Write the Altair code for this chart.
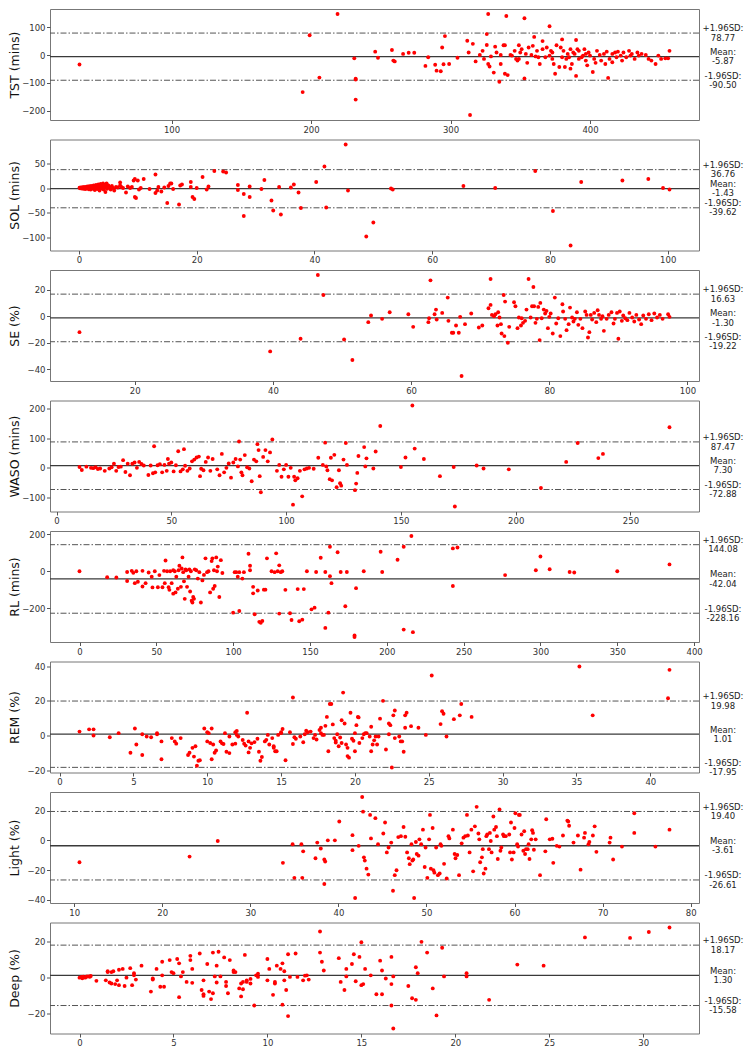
import altair as alt
import pandas as pd

W = 649
H = 111

TST_POINTS = [
(34,-34),(194,-133),(199,71),(206,-81),(219,147),(231,-12),(232,-85),(232,-88),(232,-160),(246,12),(248,-10),(258,18),(259,-20),(260,-23),(266,4),(270,8),(274,8),(282,-39),(284,-8),(289,-35),(290,-56),(293,-58),(294,27),(295,-33),(296,68),(299,-32),(305,-10),(312,51),(314,-215),(313,9),(316,40),(318,-23),(321,0),(323,15),(324,-14),(326,75),(326,36),(327,147),(327,-32),(328,-41),(329,-5),(331,-63),(332,30),(333,9),(335,-96),(336,0),(336,-32),(338,35),(339,35),(339,-67),(340,140),(341,-72),(343,0),(344,-2),(346,15),(347,-14),(348,-20),(349,-14),(349,35),(350,9),(351,21),(353,-84),(353,132),(354,4),(355,-28),(356,27),(358,0),(359,33),(360,65),(361,-5),(362,15),(363,-8),(364,-32),(366,50),(366,21),(368,-8),(369,27),(371,103),(371,-2),(372,15),(373,-14),(373,9),(374,-32),(375,-67),(376,35),(378,-43),(379,27),(380,56),(380,-8),(381,15),(382,-43),(383,-14),(384,4),(385,-8),(386,-49),(386,21),(387,-32),(388,9),(389,4),(390,-75),(390,54),(391,21),(392,-14),(392,15),(394,-8),(395,-2),(396,21),(397,4),(397,-20),(398,-37),(399,9),(400,-2),(402,-61),(403,-14),(404,-28),(405,15),(407,0),(408,-20),(410,4),(411,-32),(412,12),(413,-82),(414,-14),(416,4),(416,-26),(418,9),(419,-8),(420,12),(422,-2),(423,-20),(424,9),(426,-8),(428,15),(429,-2),(430,4),(432,-14),(434,9),(435,-2),(437,4),(440,0),(442,-14),(444,-20),(447,-32),(449,-2),(451,-14),(454,-12),(457,15),(456,-12)
]

SOL_POINTS = [
(0.1,0.5),(0.2,-0.5),(0.3,1),(0.4,0),(0.5,-1),(0.6,1.5),(0.7,0.5),(0.8,-1.5),(0.9,2),(1.0,0),(1.1,-2),(1.2,1),(1.3,2.5),(1.4,-1),(1.5,3),(1.6,0.5),(1.7,-2.5),(1.8,3.5),(1.9,1),(2.0,-3),(2.1,4),(2.2,0),(2.3,2),(2.4,-1.5),(2.5,5),(2.6,1),(2.7,-4),(2.8,3),(2.9,6),(3.0,0),(3.1,-2),(3.2,4.5),(3.3,7),(3.4,1.5),(3.5,-5),(3.6,3),(3.7,8),(3.8,-1),(3.9,5),(4.0,2),(4.1,9),(4.2,-3),(4.3,6),(4.4,0.5),(4.5,-8),(4.6,3.5),(4.7,9),(4.8,-1.5),(5.0,5),(5.2,1),(5.4,-3),(5.6,4),(5.8,0),(6.0,-5),(6.3,2),(6.6,1),(7.0,11),(7.0,5),(7.2,2),(7.5,0),(8.0,-9),(8.3,3),(8.7,0),(9.0,2),
(9.3,15),(9.5,18),(9.5,-18),(9.7,-20),(10.0,15),(10.2,-3),(10.5,0),(11,18),(12,-2),(13,27),(13,-10),(13.3,-5),(13.5,2),(14,-7),(14.5,1),(15,-30),(15.2,4),(15.5,9),(15.7,9),(16,-2),(17,-33),(17.2,5),(17.5,7),(19,12),(19,2),(19.3,-18),(19.6,-22),(20,0),(21,22),(21.7,-3),(22,3),(23,34),(24.5,33),(25,31),(27,6),(27,-4),(28,-12),(28,-56),(29,3),(29,-18),(31,-2),(31.5,16),(32.7,-25),(33,-45),(34,2),(34.3,-53),(36,1),(36.5,7),(37.3,-9),(37.7,-40),(40.3,12),(41.7,43),(42,-39),(45.3,87),(45.7,-5),(48.8,-97),(50,-69),(53,-1),(53.3,-3),(65.3,4),(70.7,0),(77.5,34),(80.5,-46),(83.5,-115),(85.3,12),(92.3,15),(96.7,18),(99.2,0),(100.3,-3)
]

SE_POINTS = [
(12,-12),(39.6,-26.5),(44,-17),(46.5,31),(47.3,16),(50.3,-17.5),(51.5,-33),(53.8,-4.5),(54.2,0.5),(55.8,-2),(56.9,3),(59.6,1.5),(60.3,-8),(62.5,-4.5),(62.6,-1.5),(62.8,27),(63.4,1.5),(63.6,5),(63.7,-2.5),(64.5,2.5),(65.3,14),(65.4,-3.5),(65.9,-12.5),(66.1,-12.5),(66.5,-7),(66.9,-12.5),(67.1,-0.5),(67.3,-45),(67.8,-6),(68.7,2),(69.8,-8.5),(70.3,-7),(71.2,6),(71.5,8.5),(71.5,28),(71.7,1),(72,0),(72.2,1.5),(72.5,-7),(72.6,3),(72.8,-1),(73,-6),(73.1,-13),(73.4,16),(73.5,-15),(73.6,11),(74,-20),(74.2,-8),(74.9,10.5),(75.1,7.5),(75.4,-9),(75.6,-1),(75.9,-7),(76,-1.5),(76.2,-5),(76.5,-3.5),(76.7,5),(77,28),(77.3,-1),(77.5,7.5),(77.7,22),(77.8,7.5),(78,-5),(78.2,-2),(78.4,7),(78.6,-18),(78.7,10),(78.9,-1.5),(79.2,5),(79.4,2),(79.6,4),(79.8,-9),(80,-0.5),(80.2,2),(80.5,-13),(80.8,14),(81,-5.5),(81.3,-1.5),(81.6,-15),(81.9,9),(82,3.5),(82.3,-2),(82.5,-10.5),(82.8,-6),(83,6.5),(83.3,-1),(83.5,-4),(83.7,-2),(84,3),(84.2,-6.5),(84.5,-2),(84.8,-9),(85.2,3.5),(85.4,1),(85.6,-16),(85.8,-12),(86,1),(86.2,-2.5),(86.5,2.5),(86.8,-4.5),(87,4.5),(87.2,1),(87.5,-2),(87.7,0),(87.9,-11),(88.3,-2),(88.6,1),(89,3),(89.3,-5.5),(89.5,-2),(89.8,2.5),(90,-17),(90.2,3.5),(90.5,-3.5),(90.7,0.5),(91,-1.5),(91.3,-3),(91.6,2.5),(92,-1),(92.3,-4),(92.6,1),(93,-2.5),(93.3,-6),(93.6,0.5),(94,-2),(94.4,1.5),(94.8,-3),(95.2,2),(95.6,-1),(96,1),(96.4,-2),(97.2,1.5),(97.4,-0.5)
]

WASO_POINTS = [
(10,3),(11,-7),(13,4),(15,0),(16,-1),(17,2),(18,-4),(19,-2),(21,-10),(23,-2),(24,2),(25,14),(26,-10),(27,3),(28,4),(29,26),(30,-14),(31,14),(32,-25),(33,14),(34,18),(35,0),(36,20),(37,13),(38,8),(40,-24),
(41,8),(42,-18),(42.5,73),(43,-15),(44,9),(45,12),(46,-15),(47,10),(48,-10),(48.5,30),(49,14),(50,18),(51,-12),(52,9),(53,56),(54,-12),(55,-5),(55.5,63),(56,7),(57,-10),(58,-2),(59,22),(60,28),(61,35),(62,38),(62.5,-28),(63,-3),(64,-8),(65,20),(66,35),(67,-10),(68,30),(70,-5),(71,-25),(72,47),(73,-15),(74,0),(75,15),(76,-33),(77,18),(78,30),(79,5),(79.5,89),(80,28),(80.5,-15),(81,-25),(82,43),(83,2),(84,-2),(85,-45),(86,28),(87,22),(87.5,80),(88,60),(88.5,-28),(89,-82),(90,37),(91,60),(92,22),(93,52),(94,96),(96,-10),(97,10),(98,-30),(99,-5),(100,10),(101,-30),(102,0),(103,-124),(103.5,-30),(104,-42),(105,-35),(106,-10),(107,-96),(108,-5),(109,-2),(110,0),(112,-3),(114,34),(116,10),(117,85),(117.5,5),(118,-8),(119,-38),(119.5,34),(120,-42),(121,44),(122,-65),(123,-8),(123.5,-52),(124,-60),(125,28),(126,84),(126.5,10),(130,-75),(130.5,-53),(131,-17),(131.5,40),(134,70),(134.5,5),(135,32),(138,-2),(139,55),(141,141),(150,3),(152,35),(155,210),(156,65),(160,30),(167,-28),(173,3),(173.5,-130),(183,8),(186,-2),(197,-5),(211,-68),(222,20),(227,84),(236,33),(238,47),(267,137)
]

RL_POINTS = [
(0,0),(18,-33),(24,-34),(31,-4),(31,-53),(34,2),(35,-9),(36,-65),(37,0),(38,-57),(41,2),(41,-83),(43,-65),(45,-7),(47,-30),(47.5,-88),(49,0),(51,-87),(52,-21),(54,-87),(55,2),(55.5,-65),(56,58),(57,0),(58,-87),(58.5,-101),(59,0),(60,-65),(61,-122),(61,5),(62,0),(62.5,-115),(63,-30),(64,-95),(64.5,5),(65,30),(66,-85),(66.5,15),(67,75),(67.5,-5),(68,-55),(68.5,-150),(69,10),(69.5,5),(70,-85),(71,-30),(71.5,10),(72,-110),(72.5,0),(73,-160),(73.5,-170),(74,-140),(74.5,-150),(75,10),(76,5),(77,-40),(78,-5),(79,-170),(80,-50),(81,-20),(82,70),(83,-5),(84,0),(85,-115),(86,55),(86.5,70),(87,-95),(87.5,5),(88,-80),(89,75),(89.5,0),(90,25),(91,-140),(92,60),(93,-10),
(100,-225),(101,-5),(102,-5),(103,-30),(104,-5),(104,-216),(106,-40),(107,-5),(110,95),(111,30),(111,5),(113,-85),(113,-120),(114,-234),(116,-105),(117,-275),(118,-280),(119,-270),(120,-100),(121,-100),(122,70),(125,0),(127,-5),(128,97),(129,0),(130,-230),(130,32),(131,-5),(132,0),(134,-101),(137,-228),(138,-265),(142,-97),(143,-272),(145,-263),(146,-97),(148,0),(151,-207),(153,-198),(154,-4),(157,73),(160,-4),(160,-308),(162,-225),(163,133),(163,-27),(164,-65),(168,103),(170,-4),(173,-190),(174,-4),(179,-349),(179,-357),(180,-92),(185,0),(196,106),(197,-4),(207,62),(211,133),(211,-317),(216,191),(217,-331),(243,124),(246,129),(243,-80),(277,-21),(297,5),(300,80),(306,11),(319,-4),(322,-7),(350,0),(384,37)
]

REM_POINTS = [
(1.35,2.5),(2.0,3.8),(2.3,3.8),(2.3,0.3),(3.4,-0.7),(4.0,1.6),(4.8,-9.6),(5.1,4.3),(5.2,-4.9),(5.6,-10.9),(5.6,1.0),(5.9,-0.3),(6.2,-0.7),(6.6,1.0),(6.6,1.6),(6.9,-13.3),(6.9,-3.1),(7.6,-1.2),(7.8,-3.1),(7.9,-4.4),(8.2,-1.2),(8.7,-10.9),(8.8,-9.6),(9.0,-6.8),(9.1,-11.8),(9.2,-5.9),(9.3,-17.0),(9.4,-14.2),(9.5,-13.9),(9.8,4.3),(10.0,-3.1),(10.0,2.1),(10.1,1.6),(10.2,-4.0),(10.3,-13.3),(10.3,4.3),(10.4,-4.9),(10.5,-9.6),(10.6,-8.3),(10.9,-3.1),(11.0,-4.2),(11.1,-4.6),(11.2,1.6),(11.3,-9.0),(11.5,-0.3),(11.5,-9.8),(11.7,-4.9),(11.9,-4.4),(11.9,2.1),(12.0,2.9),(12.0,0.6),(12.1,-0.3),(12.4,-2.3),(12.5,-4.4),(12.6,-5.5),(12.8,-9.4),(12.7,13.3),(12.8,-3.1),(12.9,-6.8),(13.0,-4.2),(13.2,-3.5),(13.4,-1.6),(13.5,-9.0),(13.7,-12.0),(13.6,-14.2),(13.9,-3.1),(14.0,-2.2),(14.1,0.6),(14.2,-4.9),(14.4,-1.2),(14.5,-5.9),(14.5,-6.8),(14.6,-8.7),(14.7,-8.7),(14.8,0.6),(15.0,1.6),(15.0,2.1),(15.1,4.0),(15.3,-13.9),(15.6,2.1),(15.8,-4.6),(15.9,-0.7),(15.8,22.0),(16.0,-1.6),(16.3,-0.3),(16.5,-3.6),(16.6,1.0),(16.7,3.0),(16.8,2.1),(17.0,2.5),(17.2,-1.2),(17.3,0.6),(17.4,-2.0),(17.6,3.4),(17.7,4.7),(17.7,1.6),(17.8,0.6),(17.9,0.6),(18.0,5.8),(18.1,10.9),(18.2,-8.7),(18.3,18.3),(18.4,18.3),(18.5,6.6),(18.6,-1.2),(18.7,-2.7),(18.7,-3.8),(18.8,1.0),(18.9,-5.9),(19.0,-0.9),(19.1,-4.0),(19.1,9.0),(19.2,24.8),(19.3,7.1),(19.4,-4.9),(19.5,-11.5),(19.5,-6.8),(19.6,-12.4),(19.7,13.3),(19.8,-1.6),(19.9,-2.7),(20.0,1.6),(20.0,-8.7),(20.1,6.2),(20.2,10.9),(20.25,10.6),(20.3,-4.0),(20.5,-1.2),(20.6,1.0),(20.7,1.6),(20.8,1.6),(21.0,-0.3),(21.1,-8.7),(21.1,5.3),(21.2,-4.9),(21.3,-2.5),(21.4,-0.3),(21.5,-4.9),(21.6,-0.3),(21.7,9.9),(21.9,20.1),(22.1,-7.7),(22.3,7.1),(22.3,1.0),(22.4,6.2),(22.5,-18.0),(22.6,11.8),(22.7,-1.2),(22.7,14.6),(23.0,-0.3),(23.1,-3.1),(23.2,-3.1),(23.3,-9.0),(23.4,4.7),(23.4,11.8),(23.5,13.3),(23.8,5.6),(24.3,4.7),(24.8,0.6),(25.2,34.6),(25.8,6.8),(25.9,14.2),(26.0,12.7),(26.2,-0.3),(26.7,9.6),(27.1,11.8),(27.2,18.3),(27.9,10.9),(35.2,39.7),(36.1,11.8),(41.3,37.8),(41.2,21.6)
]

LIGHT_POINTS = [
(10.6,-14.7),(23.1,-10.9),(26.3,-0.4),(33.7,-15.1),(34.8,-2.6),(35.0,-25.2),(35.8,-2.6),(35.9,-25.2),(36.0,-7.4),(37.4,-12.0),(37.6,-1.5),(38.0,-5.5),(38.4,-12.9),(38.5,-14.2),(38.4,-29.3),(38.8,0),(39.6,0),(40.1,12.7),(41.6,3.5),(41.6,-6.6),(41.9,-38.7),(42.3,-3.7),(42.7,29.1),(42.8,19.3),(42.9,-11.4),(43.0,-13.6),(43.2,-19.0),(43.4,-23.0),(43.6,17.1),(43.7,1.3),(44.2,14.9),(44.5,-2.6),(45.1,4.6),(45.3,12.0),(45.5,-8.1),(45.7,-4.8),(46.0,-1.5),(46.2,-33.9),(46.4,-23.4),(46.6,-20.1),(46.8,2.2),(47.1,2.8),(47.4,9.0),(47.6,2.4),(47.8,-8.1),(48.0,-12.0),(48.1,-16.0),(48.3,-2.6),(48.4,-13.6),(48.5,-12.9),(48.6,-38.7),(48.8,-1.1),(48.9,-9.2),(49.1,-10.3),(49.2,0.7),(49.4,-2.6),(49.6,7.2),(49.8,-17.9),(49.9,-4.8),(50.1,-25.2),(50.3,0.7),(50.4,17.1),(50.5,-19.0),(50.7,8.3),(50.8,-20.1),(50.9,-21.7),(51.1,-4.8),(51.3,-23.4),(51.5,-22.3),(51.6,-2.6),(51.7,-3.7),(52.0,-15.8),(52.3,-25.6),(52.5,2.8),(52.6,1.3),(53.0,7.2),(53.2,-9.2),(53.3,-12.0),(53.5,-9.8),(53.7,-23.4),(54.0,-2.0),(54.2,1.8),(54.4,2.8),(54.6,17.1),(54.7,3.3),(54.9,-8.1),(55.1,7.2),(55.3,-20.8),(55.5,9.4),(55.7,22.5),(55.9,4.6),(56.0,0.7),(56.1,-14.7),(56.3,-11.4),(56.4,-5.9),(56.5,-22.3),(56.7,-19.0),(56.8,2.8),(56.9,3.9),(57.1,-5.9),(57.2,5.0),(57.3,-0.4),(57.4,-8.1),(57.6,16.0),(57.7,7.2),(57.9,9.0),(58.0,2.8),(58.1,-12.5),(58.3,20.8),(58.4,-7.0),(58.5,-4.8),(58.7,3.9),(58.8,2.8),(59.0,2.8),(59.4,3.9),(59.5,-8.1),(59.6,12.0),(59.7,-12.9),(59.9,-8.1),(60.0,8.3),(60.1,18.2),(60.3,-2.6),(60.4,-4.2),(60.5,17.1),(60.6,17.1),(60.8,3.9),(61.0,-7.0),(61.1,6.1),(61.2,-9.2),(61.3,-5.9),(61.5,-5.9),(61.6,-2.6),(61.7,-12.5),(61.9,0.7),(62.0,6.8),(62.1,5.0),(62.2,-6.3),(62.4,0.7),(62.9,-23.4),(63.5,-7.4),(63.6,14.2),(64.0,0.7),(64.3,1.1),(64.4,-15.1),(64.8,-3.7),(65.1,-4.2),(65.5,3.3),(66.0,13.3),(66.1,12.7),(66.2,9.8),(66.7,-1.5),(67.2,3.3),(67.5,-19.7),(67.9,1.8),(68.0,5.0),(68.4,-2.6),(68.5,-1.1),(68.9,3.3),(69.1,9.4),(69.3,-7.7),(70.8,-1.5),(70.9,1.8),(71.2,-12.9),(72.2,-4.2),(73.6,18.2),(73.6,5.0),(76.0,-4.2),(77.6,7.2)
]

DEEP_POINTS = [
(0.0,0.0),(0.1,0.4),(0.15,-0.4),(0.2,0.5),(0.3,0.0),(0.35,0.4),(0.4,0.7),(0.5,0.7),(0.55,0.5),(0.6,0.9),(0.9,-1.8),(1.4,-1.5),(1.5,3.1),(1.5,3.6),(1.6,-2.7),(1.7,-3.3),(1.7,3.1),(1.8,3.6),(1.9,-3.6),(2.0,-1.5),(2.1,4.4),(2.1,-4.2),(2.3,4.9),(2.4,-4.7),(2.5,0.0),(2.7,5.3),(2.8,-4.2),(2.9,1.3),(2.9,2.5),(3.0,-1.1),(3.3,6.7),(3.8,-7.8),(3.9,-0.5),(3.9,-1.1),(4.1,4.9),(4.3,-5.1),(4.4,8.9),(4.4,1.3),(4.5,-5.1),(4.8,9.8),(4.9,3.1),(5.0,2.5),(5.2,10.4),(5.3,-10.9),(5.3,8.0),(5.4,0.7),(5.5,3.1),(5.7,-2.4),(5.9,12.2),(5.9,9.8),(6.0,4.9),(6.0,-2.9),(6.4,13.5),(6.5,-6.9),(6.6,-9.3),(6.6,-10.2),(6.6,-1.5),(6.8,7.6),(6.9,-7.8),(7.0,-12.0),(7.1,-8.7),(7.1,14.0),(7.2,0.7),(7.3,6.7),(7.3,-2.7),(7.4,14.5),(7.5,0.7),(7.7,11.3),(7.8,-4.7),(7.8,-2.4),(7.9,-8.7),(8.0,9.8),(8.2,4.0),(8.2,3.1),(8.3,3.1),(8.5,-6.0),(8.6,-10.5),(8.6,-3.3),(8.7,-2.4),(8.7,-6.5),(8.8,12.7),(8.9,-1.5),(8.9,-2.4),(9.1,-3.3),(9.1,-0.7),(9.3,-15.6),(9.4,1.3),(9.5,2.2),(9.5,0.4),(10.0,-1.5),(10.0,10.4),(10.1,4.9),(10.3,-9.6),(10.4,-3.3),(10.4,-2.4),(10.5,6.7),(10.7,4.9),(10.8,-15.1),(10.8,8.0),(10.9,3.6),(10.9,-1.5),(11.0,-6.9),(11.1,13.1),(11.1,-21.5),(11.2,0.4),(11.5,13.5),(11.6,0.4),(11.9,-1.5),(12.0,1.1),(12.1,1.3),(12.2,-1.1),(12.8,25.8),(12.8,14.0),(12.9,8.9),(13.0,4.0),(13.8,10.9),(13.9,-2.4),(14.1,-6.9),(14.2,0.7),(14.2,4.9),(14.5,7.6),(14.6,13.1),(14.7,-2.0),(14.9,11.6),(15.0,19.8),(15.0,-4.2),(15.1,-3.6),(15.2,4.9),(15.5,1.3),(15.8,-9.3),(16.0,9.5),(16.1,4.0),(16.1,-9.3),(16.3,-0.5),(16.6,11.6),(16.6,-3.6),(16.6,-15.6),(16.7,-28.4),(16.7,0.7),(17.5,-4.7),(17.7,-11.5),(17.9,-12.4),(17.9,5.8),(18.0,2.5),(18.2,20.0),(18.5,14.0),(18.8,-6.0),(19.0,-21.1),(19.3,16.7),(19.4,0.7),(20.6,0.7),(20.6,2.5),(21.8,-12.4),(23.3,7.3),(24.7,6.7),(26.9,22.5),(29.3,22.2),(30.3,25.5),(31.4,28.0)
]

TITLES = ["TST (mins)", "SOL (mins)", "SE (%)", "WASO (mins)", "RL (mins)", "REM (%)", "Light (%)", "Deep (%)"]
ALL_POINTS = [TST_POINTS, SOL_POINTS, SE_POINTS, WASO_POINTS, RL_POINTS, REM_POINTS, LIGHT_POINTS, DEEP_POINTS]
MEANS = [-5.87, -1.43, -1.30, 7.30, -42.04, 1.01, -3.61, 1.30]
UPPER = [78.77, 36.76, 16.63, 87.47, 144.08, 19.98, 19.40, 18.17]
LOWER = [-90.50, -39.62, -19.22, -72.88, -228.16, -17.95, -26.61, -15.58]
X_TICKS = [
    [100, 200, 300, 400],
    [0, 20, 40, 60, 80, 100],
    [20, 40, 60, 80, 100],
    [0, 50, 100, 150, 200, 250],
    [0, 50, 100, 150, 200, 250, 300, 350, 400],
    [0, 5, 10, 15, 20, 25, 30, 35, 40],
    [10, 20, 30, 40, 50, 60, 70, 80],
    [0, 5, 10, 15, 20, 25, 30],
]
Y_TICKS = [
    [-200, -100, 0, 100],
    [-100, -50, 0, 50],
    [-40, -20, 0, 20],
    [-100, 0, 100, 200],
    [-200, 0, 200],
    [-20, 0, 20, 40],
    [-40, -20, 0, 20],
    [-20, 0, 20],
]

FONT = "DejaVu Sans"
TXT_SIZE = 8.5


def margin_domain(vals):
    lo, hi = min(vals), max(vals)
    r = hi - lo
    return [lo - 0.05 * r, hi + 0.05 * r]


def make_panel(title, pts, mean, up, lo, xt, yt):
    df = pd.DataFrame(pts, columns=["x", "y"])
    xdom = margin_domain(list(df["x"]))
    ydom = margin_domain(list(df["y"]) + [up, lo])
    xt = [t for t in xt if xdom[0] <= t <= xdom[1]]
    yt = [t for t in yt if ydom[0] <= t <= ydom[1]]

    x_enc = alt.X("x:Q", scale=alt.Scale(domain=xdom, nice=False, zero=False),
                  axis=alt.Axis(values=xt, title=None, format="d"))
    y_enc = alt.Y("y:Q", scale=alt.Scale(domain=ydom, nice=False, zero=False),
                  axis=alt.Axis(values=yt, title=title, format="d"))

    sd = alt.Chart(pd.DataFrame({"y": [up, lo]})).mark_rule(
        color="#555", strokeWidth=1, strokeDash=[6, 2, 1.5, 2]
    ).encode(y=y_enc)
    mn = alt.Chart(pd.DataFrame({"y": [mean]})).mark_rule(
        color="#3a3a3a", strokeWidth=1.3
    ).encode(y=y_enc)
    dots = alt.Chart(df).mark_circle(color="#ff0000", size=15, opacity=1).encode(x=x_enc, y=y_enc)
    tdf = pd.DataFrame({
        "y": [up, mean, lo],
        "head": ["+1.96SD:", "Mean:", "-1.96SD:"],
        "val": [f"{up:.2f}", f"{mean:.2f}", f"{lo:.2f}"],
    })
    head = alt.Chart(tdf).mark_text(
        align="center", baseline="middle", fontSize=TXT_SIZE, dy=-4.7, color="#222", font=FONT
    ).encode(y=y_enc, text="head:N", x=alt.value(W + 24))
    val = alt.Chart(tdf).mark_text(
        align="center", baseline="middle", fontSize=TXT_SIZE, dy=4.7, color="#222", font=FONT
    ).encode(y=y_enc, text="val:N", x=alt.value(W + 24))
    return alt.layer(sd, mn, dots, head, val).properties(width=W, height=H)


panels = [
    make_panel(TITLES[i], ALL_POINTS[i], MEANS[i], UPPER[i], LOWER[i], X_TICKS[i], Y_TICKS[i])
    for i in range(8)
]

chart = alt.vconcat(*panels, spacing=19.5, bounds="flush").properties(
    padding=0
).configure_view(
    stroke="#777", strokeWidth=1
).configure_axis(
    grid=False, domain=False, tickSize=3.5, tickColor="#555", labelFont=FONT, labelFontSize=8.5,
    labelColor="#333", labelPadding=1.5, titleFont=FONT, titleFontSize=12.5, titleFontWeight="normal",
    titleColor="#111",
).configure_axisY(
    minExtent=28, maxExtent=28, titlePadding=0.5
)

chart.save("out.html", embed_options={"renderer": "svg", "actions": False})
